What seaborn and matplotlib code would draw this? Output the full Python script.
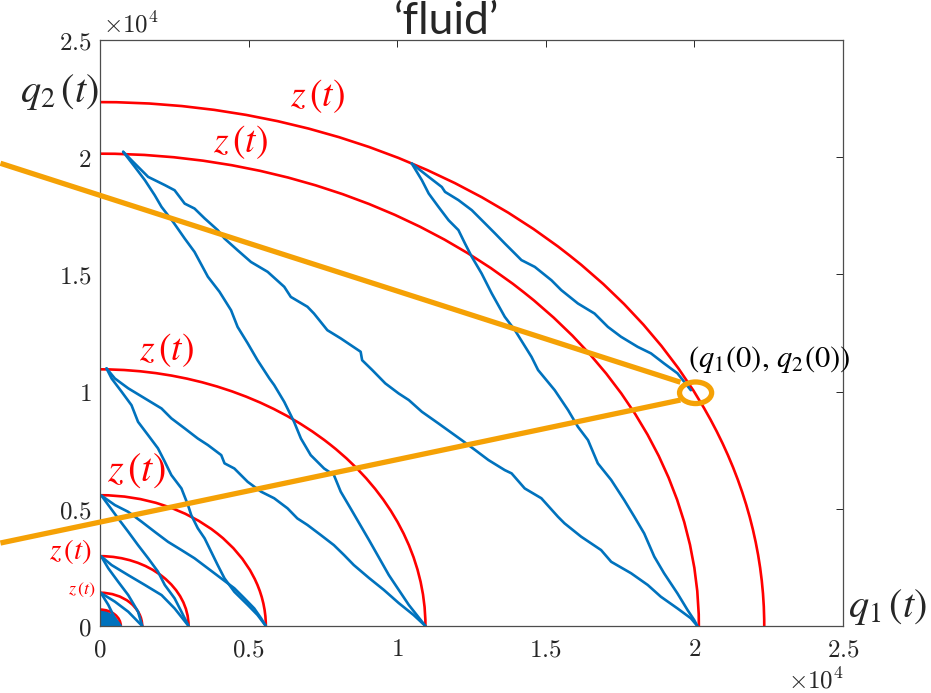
import numpy as np
import pandas as pd
import seaborn as sns
import matplotlib
matplotlib.use('Agg')
import matplotlib.pyplot as plt
from matplotlib.patches import Arc, Ellipse

# values in units of 10^4 (as on the axes)

# radii of the red z(t) arcs
radii = [2.235, 2.015, 1.095, 0.558, 0.298, 0.142, 0.07]

# blue sample paths
path_a_q1 = [0.078, 0.117, 0.151, 0.184, 0.207, 0.246, 0.285, 0.318, 0.363, 0.402, 0.441,
             0.463, 0.497, 0.530, 0.570, 0.586, 0.620, 0.653, 0.676, 0.709, 0.754, 0.787,
             0.810, 0.843, 0.905, 0.972, 1.039, 1.095]
path_a_q2 = [2.023, 1.959, 1.902, 1.838, 1.788, 1.724, 1.653, 1.596, 1.490, 1.426, 1.347,
             1.276, 1.206, 1.134, 1.056, 1.028, 0.956, 0.871, 0.800, 0.729, 0.672, 0.644,
             0.573, 0.502, 0.367, 0.217, 0.090, 0.0]

path_b_q1 = [0.078, 0.106, 0.162, 0.218, 0.251, 0.285, 0.318, 0.352, 0.396, 0.419, 0.463,
             0.508, 0.564, 0.620, 0.642, 0.698, 0.720, 0.765, 0.810, 0.877, 0.882, 0.916,
             0.960, 1.005, 1.039, 1.083, 1.139, 1.217, 1.262, 1.307, 1.362, 1.385, 1.429,
             1.485, 1.541, 1.563, 1.619, 1.686, 1.720, 1.787, 1.843, 1.887, 1.943, 1.988,
             2.010]
path_b_q2 = [2.023, 1.987, 1.916, 1.881, 1.859, 1.802, 1.781, 1.739, 1.689, 1.653, 1.603,
             1.553, 1.511, 1.447, 1.404, 1.362, 1.333, 1.262, 1.227, 1.170, 1.134, 1.092,
             1.035, 0.992, 0.964, 0.914, 0.864, 0.793, 0.751, 0.708, 0.665, 0.651, 0.587,
             0.545, 0.466, 0.438, 0.381, 0.324, 0.274, 0.225, 0.175, 0.125, 0.075, 0.033,
             0.0]

path_c_q1 = [1.049, 1.083, 1.106, 1.139, 1.173, 1.206, 1.228, 1.251, 1.284, 1.318, 1.362,
             1.396, 1.452, 1.474, 1.530, 1.575, 1.608, 1.642, 1.675, 1.720, 1.764, 1.798,
             1.831, 1.865, 1.898, 1.943, 1.977, 1.999, 2.010]
path_c_q2 = [1.973, 1.902, 1.845, 1.788, 1.731, 1.689, 1.632, 1.575, 1.504, 1.419, 1.319,
             1.262, 1.148, 1.092, 1.006, 0.921, 0.850, 0.793, 0.694, 0.623, 0.537, 0.466,
             0.395, 0.296, 0.225, 0.139, 0.068, 0.026, 0.0]

path_d_q1 = [1.049, 1.106, 1.150, 1.161, 1.206, 1.251, 1.296, 1.329, 1.362, 1.396, 1.418,
             1.463, 1.519, 1.552, 1.608, 1.664, 1.709, 1.753, 1.809, 1.854, 1.898, 1.943,
             1.988]
path_d_q2 = [1.973, 1.916, 1.873, 1.852, 1.817, 1.774, 1.717, 1.675, 1.632, 1.589, 1.561,
             1.532, 1.475, 1.433, 1.376, 1.333, 1.276, 1.234, 1.191, 1.163, 1.120, 1.078,
             1.006]

path_e_q1 = [0.022, 0.050, 0.095, 0.151, 0.207, 0.240, 0.285, 0.329, 0.363, 0.408, 0.419,
             0.452, 0.497, 0.542, 0.586, 0.631, 0.664, 0.698, 0.743, 0.787, 0.821, 0.854,
             0.905, 0.955, 1.005, 1.055, 1.095]
path_e_q2 = [1.099, 1.056, 1.014, 0.971, 0.928, 0.886, 0.843, 0.800, 0.772, 0.729, 0.694,
             0.672, 0.615, 0.573, 0.545, 0.502, 0.459, 0.431, 0.388, 0.345, 0.303, 0.260,
             0.205, 0.154, 0.098, 0.047, 0.0]

path_f_q1 = [0.022, 0.039, 0.073, 0.106, 0.128, 0.162, 0.195, 0.218, 0.240, 0.274, 0.296,
             0.307, 0.329, 0.352, 0.374, 0.396, 0.419, 0.452, 0.497, 0.530, 0.558]
path_f_q2 = [1.099, 1.056, 0.999, 0.942, 0.871, 0.814, 0.758, 0.701, 0.644, 0.587, 0.516,
             0.473, 0.417, 0.374, 0.317, 0.260, 0.203, 0.146, 0.090, 0.047, 0.0]

path_g_q1 = [0.005, 0.050, 0.095, 0.140, 0.184, 0.229, 0.274, 0.318, 0.363, 0.408, 0.452,
             0.486, 0.519, 0.542, 0.558]
path_g_q2 = [0.556, 0.516, 0.487, 0.445, 0.402, 0.359, 0.324, 0.289, 0.246, 0.203, 0.161,
             0.118, 0.075, 0.033, 0.0]

path_h_q1 = [0.005, 0.028, 0.061, 0.095, 0.128, 0.162, 0.195, 0.218, 0.251, 0.274, 0.298]
path_h_q2 = [0.556, 0.516, 0.459, 0.402, 0.345, 0.289, 0.232, 0.175, 0.118, 0.061, 0.0]

path_i_q1 = [0.004, 0.039, 0.095, 0.151, 0.207, 0.251, 0.298]
path_i_q2 = [0.297, 0.260, 0.217, 0.175, 0.132, 0.075, 0.0]

path_j_q1 = [0.004, 0.028, 0.061, 0.095, 0.128, 0.142]
path_j_q2 = [0.297, 0.246, 0.189, 0.132, 0.061, 0.0]

path_k_q1 = [0.003, 0.050, 0.095, 0.142]
path_k_q2 = [0.141, 0.104, 0.061, 0.0]

path_l_q1 = [0.003, 0.028, 0.050, 0.070]
path_l_q2 = [0.141, 0.090, 0.033, 0.0]

# dense tangle of tiny paths near the origin
blob_q1 = [0.0, 0.0, 0.020, 0.038, 0.052, 0.062, 0.066]
blob_q2 = [0.0, 0.068, 0.060, 0.048, 0.032, 0.015, 0.0]

ticks = [0, 0.5, 1, 1.5, 2, 2.5]
tick_labels = ['0', '0.5', '1', '1.5', '2', '2.5']

# start point (q1(0), q2(0)) and the callout lines
start_q1, start_q2 = 2.004, 0.995
callout_from = [(-0.335, 1.974), (-0.335, 0.354)]
callout_to = [(1.953, 1.040), (1.953, 0.964)]

BLUE = '#0072BD'
RED = '#FF0000'
ORANGE = '#F5A105'

paths = [('a', path_a_q1, path_a_q2), ('b', path_b_q1, path_b_q2),
         ('c', path_c_q1, path_c_q2), ('d', path_d_q1, path_d_q2),
         ('e', path_e_q1, path_e_q2), ('f', path_f_q1, path_f_q2),
         ('g', path_g_q1, path_g_q2), ('h', path_h_q1, path_h_q2),
         ('i', path_i_q1, path_i_q2), ('j', path_j_q1, path_j_q2),
         ('k', path_k_q1, path_k_q2), ('l', path_l_q1, path_l_q2)]
df = pd.concat([pd.DataFrame({'path': name, 'q1': q1, 'q2': q2})
                for name, q1, q2 in paths], ignore_index=True)

sns.set_theme(style='white')
plt.rcParams['mathtext.fontset'] = 'cm'

fig = plt.figure(figsize=(9.31, 6.93), dpi=100)
ax = fig.add_axes([100 / 931, 67 / 693, 743 / 931, 586 / 693])

sns.lineplot(data=df, x='q1', y='q2', units='path', estimator=None, sort=False,
             color=BLUE, lw=1.9, legend=False, ax=ax)
ax.fill(blob_q1, blob_q2, color=BLUE, lw=1.5)

for r in radii:
    ax.add_patch(Arc((0, 0), 2 * r, 2 * r, theta1=0, theta2=90, color=RED, lw=1.9))

# orange callout
for (x0, y0), (x1, y1) in zip(callout_from, callout_to):
    ax.plot([x0, x1], [y0, y1], color=ORANGE, lw=3.8, clip_on=False,
            solid_capstyle='butt', zorder=5)
ax.add_patch(Ellipse((start_q1, start_q2), 0.108, 0.092, fill=False, ec=ORANGE,
                     lw=3.8, clip_on=False, zorder=5))

ax.set_xlim(0, 2.5)
ax.set_ylim(0, 2.5)
ax.set_xticks(ticks)
ax.set_yticks(ticks)
ax.set_xticklabels(['$%s$' % t for t in tick_labels], fontsize=18, color='#262626')
ax.set_yticklabels(['$%s$' % t for t in tick_labels], fontsize=18, color='#262626')
ax.set_xlabel('')
ax.set_ylabel('')
ax.tick_params(direction='in', top=True, right=True, length=5, width=0.7,
               color='#262626')
ax.tick_params(axis='x', pad=8)
ax.tick_params(axis='y', pad=6)
for s in ax.spines.values():
    s.set_color('#4d4d4d')
    s.set_linewidth(0.9)

# red z(t) labels
z_q1 = [0.730, 0.472, 0.225, 0.121, -0.100, -0.060]
z_q2 = [2.260, 2.064, 1.177, 0.665, 0.316, 0.154]
z_size = [27, 27, 27, 29, 21, 13]
for x, y, s in zip(z_q1, z_q2, z_size):
    ax.text(x, y, r'$z\,(t)$', color=RED, fontsize=s, ha='center', va='center',
            math_fontfamily='stix', clip_on=False)

ax.text(2.251, 1.139, r'$(q_1(0),\,q_2(0))$', fontsize=22, ha='center', va='center',
        math_fontfamily='stix', color='black', zorder=6)

fig.text(59 / 931, 1 - 92 / 693, r'$q_2\,(t)$', fontsize=29, ha='center', va='center',
         math_fontfamily='stix')
fig.text(887 / 931, 1 - 607 / 693, r'$q_1\,(t)$', fontsize=29, ha='center', va='center',
         math_fontfamily='stix')
fig.text(103 / 931, 1 - 25 / 693, r'$\times10^4$', fontsize=18, ha='left', va='center',
         color='#262626')
fig.text(816 / 931, 1 - 681 / 693, r'$\times10^4$', fontsize=18, ha='center',
         va='center', color='#262626')
fig.text(446 / 931, 1 - 34 / 693, '\u2018fluid\u2019', fontsize=32, ha='center',
         va='baseline', family=['Lato', 'DejaVu Sans'])

fig.savefig('out.png', dpi=100)
